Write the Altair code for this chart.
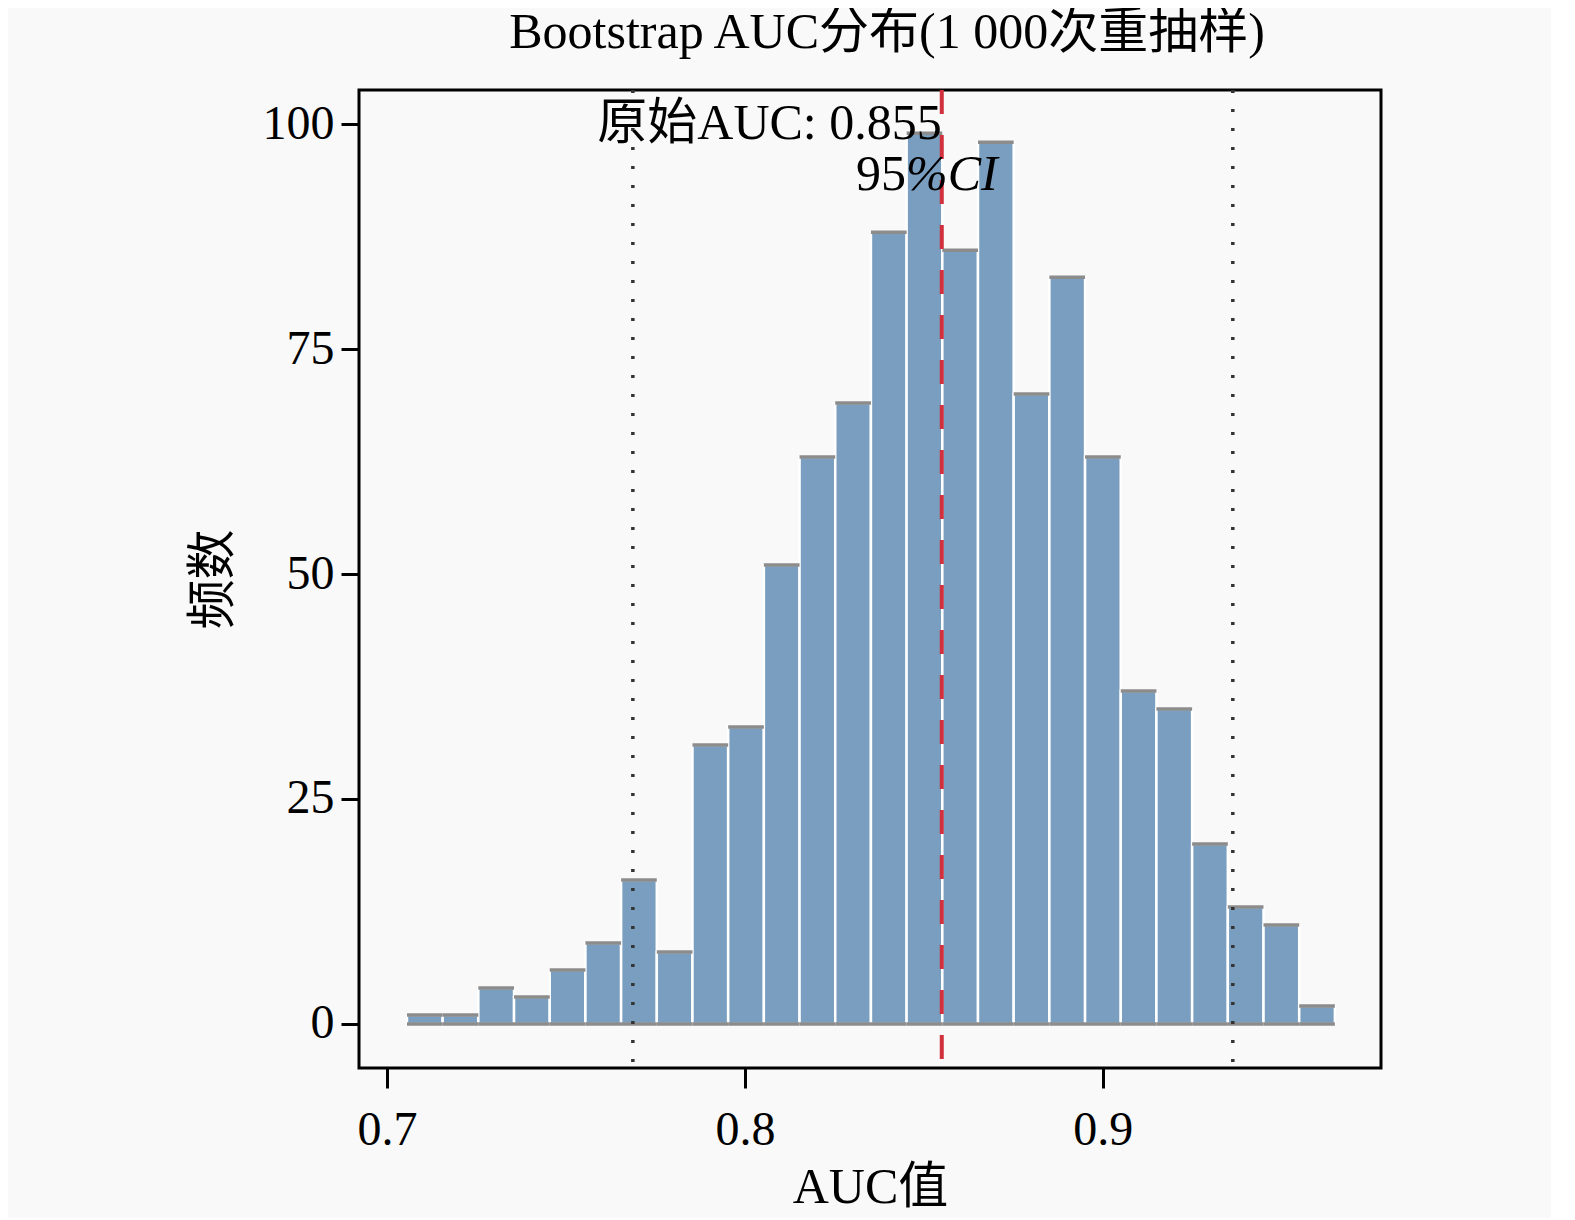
import altair as alt
import pandas as pd

# ---- data ----
counts = [1, 1, 4, 3, 6, 9, 16, 8, 31, 33, 51, 63, 69, 88, 99, 86, 98, 70, 83, 63, 37, 35, 20, 13, 11, 2]
bin_first = 0.7056
bin_width = 0.00997
auc_original = 0.855
ci_low = 0.7687
ci_high = 0.9363
x_ticks = [0.7, 0.8, 0.9]
y_ticks = [0, 25, 50, 75, 100]

title_text = "Bootstrap AUC分布(1 000次重抽样)"
x_title = "AUC值"
y_title = "频数"
auc_label = "原始AUC: 0.855"

FONT = "Liberation Serif, Times New Roman, Noto Sans CJK SC"

bins = pd.DataFrame({
    "start": [bin_first + i * bin_width for i in range(len(counts))],
    "end": [bin_first + (i + 1) * bin_width for i in range(len(counts))],
    "count": counts,
    "zero": [0] * len(counts),
})
ci = pd.DataFrame({"x": [ci_low, ci_high]})
auc = pd.DataFrame({"x": [auc_original]})

xscale = alt.Scale(domain=[0.6922, 0.9777], nice=False, zero=False)
yscale = alt.Scale(domain=[-4.9, 103.8], nice=False, zero=False)

xaxis = alt.Axis(values=x_ticks, format=".1f", title=x_title, grid=False, domain=False,
                 tickSize=20, tickWidth=3, tickColor="black", labelPadding=18,
                 labelFont=FONT, labelFontSize=48, labelColor="black",
                 titleFont=FONT, titleFontSize=50, titleFontWeight="normal", titleColor="black",
                 titleBaseline="alphabetic", titleY=134)
yaxis = alt.Axis(values=y_ticks, title=y_title, grid=False, domain=False,
                 tickSize=18, tickWidth=3, tickColor="black", labelPadding=7,
                 labelFont=FONT, labelFontSize=48, labelColor="black",
                 titleFont=FONT, titleFontSize=50, titleFontWeight="normal", titleColor="black",
                 titleX=-146, titleY=489, titleAngle=-90, titleBaseline="middle", titleAlign="center")

bars = alt.Chart(bins).mark_bar(fill="#7A9EBF", stroke="white", strokeWidth=2.5).encode(
    x=alt.X("start:Q", scale=xscale, axis=xaxis),
    x2="end:Q",
    y=alt.Y("count:Q", scale=yscale, axis=yaxis),
    y2="zero:Q",
)
tops = alt.Chart(bins).mark_rule(color="#8C8C8C", strokeWidth=3.5).encode(
    x="start:Q", x2="end:Q", y="count:Q"
)
bottoms = alt.Chart(bins).mark_rule(color="#8C8C8C", strokeWidth=3.5).encode(
    x="start:Q", x2="end:Q", y="zero:Q"
)
ci_lines = alt.Chart(ci).mark_rule(color="#333333", strokeWidth=3.5, strokeDash=[3, 16]).encode(
    x="x:Q"
)
auc_line = alt.Chart(auc).mark_rule(color="#D0313D", strokeWidth=4, strokeDash=[24, 21]).encode(
    x="x:Q"
)

lab_df = pd.DataFrame({"x": [auc_original], "y": [100], "t": [auc_label]})
auc_text = alt.Chart(lab_df).mark_text(font=FONT, fontSize=50, align="right", baseline="middle",
                                       color="black").encode(x="x:Q", y="y:Q", text="t:N")

ci_a = pd.DataFrame({"x": [0.845], "y": [94.4], "t": ["95"]})
ci_b = pd.DataFrame({"x": [0.845], "y": [94.4], "t": ["%CI"]})
ci_text_a = alt.Chart(ci_a).mark_text(font=FONT, fontSize=50, align="right", baseline="middle",
                                      color="black").encode(x="x:Q", y="y:Q", text="t:N")
ci_text_b = alt.Chart(ci_b).mark_text(font=FONT, fontSize=50, fontStyle="italic", align="left",
                                      baseline="middle", color="black").encode(x="x:Q", y="y:Q", text="t:N")

chart = alt.layer(bars, tops, bottoms, ci_lines, auc_line, auc_text, ci_text_a, ci_text_b).properties(
    width=1022,
    height=978,
    title=alt.TitleParams(title_text, font=FONT, fontSize=50, fontWeight="normal", color="black",
                          anchor="middle", offset=30, dx=17),
    autosize=alt.AutoSizeParams(type="none"),
    padding={"left": 351, "top": 82, "right": 170, "bottom": 150},
    background="#F9F9F9",
).configure_view(fill="#F9F9F9", stroke="black", strokeWidth=3)

chart.save("out.html", embed_options={"renderer": "svg", "actions": False})
